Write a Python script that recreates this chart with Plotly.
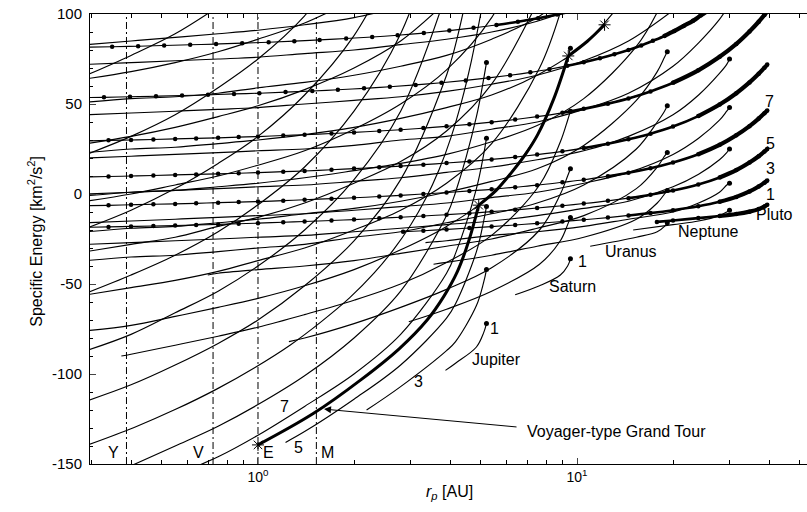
import plotly.graph_objects as go

# ---------------- data ----------------
# planet orbits drawn as dash-dot verticals (AU) and their letters
ORBIT_R = [0.387, 0.723, 1.0, 1.524]
ORBIT_LBL = ['Y', 'V', 'E', 'M']

# orbital radius of each flyby planet (AU) - where the V-infinity contours end with a dot
PLANET_R = {'J': 5.203, 'S': 9.537, 'U': 19.19, 'N': 30.07, 'P': 39.48}

# ---- Jupiter contours (rp [AU], specific energy [km^2/s^2]) ----
J1_RP = [3.87, 4.162, 4.839, 5.099, 5.203]
J1_E = [-98, -94, -85, -77, -72]
J3_RP = [2.19, 2.8, 3.9, 4.162, 4.839, 5.099, 5.203]
J3_E = [-120, -107, -87, -82, -62, -49, -42]
J5_RP = [1.22, 1.4, 2, 2.8, 3.9, 4.162, 4.839, 5.099, 5.203]
J5_E = [-138, -132, -114, -95, -69, -61, -32, -15, -7]
J7_RP = [0.627, 0.75, 1, 1.4, 2, 2.8, 3.9, 4.162, 4.839, 5.099, 5.203]
J7_E = [-152, -146, -134, -118, -100, -78, -44, -33, 3, 22, 31]
J9_RP = [0.4, 0.55, 0.75, 1, 1.4, 2, 2.8, 3.9, 4.162, 4.839, 5.099, 5.203]
J9_E = [-151, -140, -129, -117, -101, -80, -54, -12, 1, 43, 64, 73]
J11_RP = [0.297, 0.409, 0.554, 0.742, 0.976, 1.26, 1.58, 1.94, 2.31, 2.66, 3.01, 3.36, 3.7, 4.03, 4.35, 4.67, 4.99]
J11_E = [-139.0, -129.7, -119.5, -108.4, -96.5, -84.0, -70.9, -57.6, -44.0, -30.9, -17.2, -2.4, 13.7, 31.6, 51.6, 74.3, 100.0]
J13_RP = [0.29, 0.4, 0.55, 0.75, 1, 1.4, 2, 2.8, 3.9, 4.162, 4.839]
J13_E = [-115, -106, -95, -83, -70, -51, -26, 8, 66, 83, 135]
J15_RP = [0.29, 0.4, 0.55, 0.75, 1, 1.4, 2, 2.8, 3.9]
J15_E = [-87, -78, -66, -54, -40, -20, 8, 46, 112]
J17_RP = [0.29, 0.4, 0.55, 0.75, 1, 1.4, 2, 2.8, 3.9]
J17_E = [-55, -45, -34, -21, -6, 15, 46, 89, 162]
J19_RP = [0.29, 0.4, 0.55, 0.75, 1, 1.4, 2, 2.8]
J19_E = [-19, -9, 3, 17, 32, 55, 88, 136]
J21_RP = [0.29, 0.4, 0.55, 0.75, 1, 1.4, 2]
J21_E = [22, 32, 44, 59, 75, 99, 136]
J23_RP = [0.29, 0.4, 0.55, 0.75]
J23_E = [66, 77, 89, 104]

# ---- Saturn contours ----
S1_RP = [6.4, 7.63, 8.869, 9.346, 9.537]
S1_E = [-56, -51, -45, -40, -36]
S3_RP = [2.97, 3.9, 5.4, 7.63, 8.869, 9.346, 9.537]
S3_E = [-71, -64, -54, -39, -26, -17, -13]
S5_RP = [1.25, 1.4, 2, 2.8, 3.9, 5.4, 7.63, 8.869, 9.346, 9.537]
S5_E = [-82, -80, -72, -63, -53, -41, -20, 0, 10, 14]
S7_RP = [0.373, 0.4, 0.55, 0.75, 1, 1.4, 2, 2.8, 3.9, 5.4, 7.63, 8.869, 9.346, 9.537]
S7_E = [-90, -89, -84, -79, -74, -67, -59, -50, -38, -23, 5, 29, 41, 46]
S9_RP = [0.29, 0.4, 0.55, 0.75, 1, 1.4, 2, 2.8, 3.9, 5.4, 7.63, 8.869, 9.346, 9.537]
S9_E = [-76, -73, -68, -63, -58, -51, -42, -31, -18, 0, 35, 63, 75, 81]
S11_RP = [0.29, 0.4, 0.55, 0.75, 1, 1.4, 2, 2.8, 3.9, 5.4, 7.63, 8.869]
S11_E = [-56, -52, -48, -43, -37, -30, -20, -9, 6, 28, 70, 101]
S13_RP = [0.29, 0.4, 0.55, 0.75, 1, 1.4, 2, 2.8, 3.9, 5.4, 7.63]
S13_E = [-32, -28, -24, -18, -13, -5, 6, 18, 35, 61, 109]
S15_RP = [0.29, 0.4, 0.55, 0.75, 1, 1.4, 2, 2.8, 3.9, 5.4, 7.63]
S15_E = [-4, 0, 5, 10, 16, 24, 36, 50, 69, 98, 152]
S17_RP = [0.29, 0.4, 0.55, 0.75, 1, 1.4, 2, 2.8, 3.9]
S17_E = [28, 32, 37, 43, 49, 58, 70, 85, 107]
S19_RP = [0.29, 0.4, 0.55, 0.75, 1, 1.4, 2]
S19_E = [64, 68, 73, 79, 86, 95, 108]

# ---- Uranus contours ----
U1_RP = [11, 15.352, 17.847, 18.806, 19.19]
U1_E = [-29, -24, -21, -18, -16]
U3_RP = [3.55, 3.9, 5.4, 7.5, 10.5, 15.352, 17.847, 18.806, 19.19]
U3_E = [-39, -38, -34, -29, -24, -14, -5, 0, 2]
U5_RP = [0.696, 0.75, 1, 1.4, 2, 2.8, 3.9, 5.4, 7.5, 10.5, 15.352, 17.847, 18.806, 19.19]
U5_E = [-45, -44, -42, -40, -37, -33, -29, -25, -19, -12, 3, 15, 21, 23]
U7_RP = [0.29, 0.4, 0.55, 0.75, 1, 1.4, 2, 2.8, 3.9, 5.4, 7.5, 10.5, 15.352, 17.847, 18.806, 19.19]
U7_E = [-37, -35, -34, -32, -30, -28, -24, -21, -16, -11, -5, 5, 25, 40, 46, 49]
U9_RP = [0.29, 0.4, 0.55, 0.75, 1, 1.4, 2, 2.8, 3.9, 5.4, 7.5, 10.5, 15.352, 17.847, 18.806, 19.19]
U9_E = [-21, -19, -18, -16, -14, -11, -8, -4, 1, 7, 14, 27, 52, 68, 76, 79]
U11_RP = [0.29, 0.4, 0.55, 0.75, 1, 1.4, 2, 2.8, 3.9, 5.4, 7.5, 10.5, 15.352, 17.847]
U11_E = [-1, 1, 2, 4, 6, 9, 13, 17, 22, 29, 38, 53, 82, 101]
U13_RP = [0.29, 0.4, 0.55, 0.75, 1, 1.4, 2, 2.8, 3.9, 5.4, 7.5, 10.5, 15.352]
U13_E = [23, 25, 26, 28, 30, 33, 37, 42, 48, 55, 66, 83, 117]
U15_RP = [0.29, 0.4, 0.55, 0.75, 1, 1.4, 2, 2.8, 3.9, 5.4, 7.5, 10.5]
U15_E = [51, 53, 54, 56, 59, 62, 66, 71, 77, 86, 98, 118]
U17_RP = [0.29, 0.4, 0.55, 0.75, 1, 1.4, 2, 2.8]
U17_E = [83, 85, 87, 89, 91, 94, 98, 104]

# ---- Neptune contours ----
N_RP = [0.29, 0.4, 0.55, 0.75, 1, 1.4, 2, 2.8, 3.9, 5.4, 7.5, 10.5, 14.5, 20, 24.056, 27.965, 29.469, 30.07]
N1_RP = [15, 20, 24.056, 27.965, 29.469, 30.07]
N1_E = [-20, -17, -15, -12, -10, -9]
N3_RP = [3.35, 3.9, 5.4, 7.5, 10.5, 14.5, 20, 24.056, 27.965, 29.469, 30.07]
N3_E = [-27, -26, -23, -21, -18, -14, -10, -5, 1, 5, 6]
N5_E = [-28, -27, -26, -25, -24, -23, -21, -19, -17, -15, -12, -8, -4, 4, 11, 19, 23, 25]
N7_E = [-16, -15, -14, -13, -12, -11, -9, -7, -5, -2, 1, 6, 12, 22, 31, 41, 46, 48]
N9_E = [0, 1, 2, 3, 4, 5, 7, 9, 12, 15, 19, 24, 32, 44, 55, 67, 72, 75]
N11_E = [20, 21, 22, 23, 24, 25, 27, 30, 32, 36, 40, 47, 56, 71, 84, 97, 103]
N13_E = [44, 45, 46, 47, 48, 50, 52, 54, 57, 61, 66, 74, 85, 102]
N15_E = [72, 73, 74, 75, 76, 78, 80, 83, 86, 90, 96, 105]

# ---- Pluto contours (drawn dotted) ----
P_RP = [0.29, 0.34, 0.4, 0.47, 0.55, 0.64, 0.75, 0.87, 1, 1.2, 1.4, 1.7, 2, 2.4, 2.8, 3.3, 3.9, 4.6,
        5.4, 6.4, 7.5, 9, 10.5, 12.5, 14.5, 17, 20, 24, 28, 31.58, 34.74, 37.11, 38.69, 39.48]
P1_RP = [17.8, 20, 24, 28, 31.58, 34.74, 37.11, 38.69, 39.48]
P1_E = [-15.5, -14.7, -13.4, -12.2, -11.1, -9.8, -8.4, -6.9, -6.0]
P3_RP = [2.85, 3.3, 3.9, 4.6, 5.4, 6.4, 7.5, 9, 10.5, 12.5, 14.5, 17, 20, 24, 28, 31.58, 34.74, 37.11, 38.69, 39.48]
P3_E = [-21.0, -20.4, -19.7, -18.9, -18.1, -17.2, -16.3, -15.3, -14.3, -13.1, -11.9, -10.6, -9.0, -6.8, -4.3,
        -1.6, 1.4, 4.2, 6.3, 7.5]
P5_E = [-18.5, -18.3, -18.0, -17.8, -17.5, -17.2, -16.9, -16.5, -16.2, -15.7, -15.3, -14.7, -14.2, -13.5, -12.9,
        -12.2, -11.5, -10.7, -9.8, -8.8, -7.8, -6.5, -5.3, -3.8, -2.3, -0.4, 1.9, 5.3, 9.2, 13.3, 17.5, 21.0,
        23.6, 25.0]
P7_E = [-6.5, -6.3, -6.0, -5.7, -5.5, -5.2, -4.8, -4.5, -4.2, -3.7, -3.2, -2.6, -2.1, -1.4, -0.8, 0.0, 0.8,
        1.7, 2.6, 3.8, 4.9, 6.5, 7.9, 9.9, 11.8, 14.3, 17.5, 22.1, 27.3, 32.6, 37.7, 41.9, 44.9, 46.4]
P9_E = [9.5, 9.7, 10.0, 10.3, 10.6, 10.9, 11.2, 11.5, 11.9, 12.4, 12.8, 13.5, 14.1, 14.8, 15.5, 16.3, 17.2,
        18.1, 19.2, 20.5, 21.9, 23.7, 25.5, 27.9, 30.4, 33.5, 37.5, 43.3, 49.7, 56.0, 62.0, 66.8, 70.2, 71.9]
P11_E = [29.5, 29.8, 30.0, 30.3, 30.6, 30.9, 31.2, 31.6, 31.9, 32.5, 32.9, 33.6, 34.2, 35.0, 35.7, 36.6, 37.6,
         38.7, 39.9, 41.4, 43.0, 45.1, 47.3, 50.2, 53.1, 57.0, 61.8, 68.7, 76.2, 83.4, 90.3, 95.7, 99.5, 101.4]
P13_RP = [0.273, 0.329, 0.397, 0.479, 0.578, 0.697, 0.841, 1.01, 1.22, 1.48, 1.78, 2.15, 2.59, 3.12, 3.76, 4.48,
          5.28, 6.17, 7.14, 8.19, 9.32, 10.5, 11.8, 13.1, 14.5, 15.9, 17.3, 18.8, 20.2, 21.6, 23.1, 24.4, 25.8]
P13_E = [53.5, 53.7, 54.0, 54.3, 54.7, 55.1, 55.6, 56.0, 56.6, 57.2, 57.9, 58.7, 59.6, 60.6, 61.8, 63.1, 64.5,
         66.0, 67.6, 69.3, 71.2, 73.2, 75.4, 77.6, 80.0, 82.5, 85.1, 87.8, 90.6, 93.4, 96.2, 99.1, 101.9]
P15_RP = [0.289, 0.349, 0.421, 0.508, 0.613, 0.739, 0.892, 1.08, 1.3, 1.56, 1.89, 2.28, 2.74, 3.31, 3.98, 4.74,
          5.59, 6.53, 7.55, 8.66, 9.84]
P15_E = [81.6, 81.8, 82.1, 82.5, 82.9, 83.3, 83.8, 84.3, 84.9, 85.6, 86.4, 87.2, 88.2, 89.4, 90.8, 92.3, 93.9,
         95.7, 97.6, 99.7, 101.9]

# ---- Voyager-type Grand Tour path (Jupiter, Saturn, Uranus legs) ----
PATH_J_RP = [1.0, 1.49, 2.11, 2.77, 3.39, 3.82, 4.22, 4.58, 4.92]
PATH_J_E = [-139.4, -122, -103, -86, -70, -57, -43, -26, -6.2]
PATH_S_RP = [4.92, 5.58, 6.24, 6.89, 7.53, 8.46, 9.39]
PATH_S_E = [-6.2, 2, 12, 22, 33, 53, 76.7]
PATH_U_RP = [9.39, 10.8, 12.2]
PATH_U_E = [76.7, 85, 94.0]

CURVES = [
    ('J', J1_RP, J1_E), ('J', J3_RP, J3_E), ('J', J5_RP, J5_E), ('J', J7_RP, J7_E), ('J', J9_RP, J9_E),
    ('J', J11_RP, J11_E), ('J', J13_RP, J13_E), ('J', J15_RP, J15_E), ('J', J17_RP, J17_E),
    ('J', J19_RP, J19_E), ('J', J21_RP, J21_E), ('J', J23_RP, J23_E),
    ('S', S1_RP, S1_E), ('S', S3_RP, S3_E), ('S', S5_RP, S5_E), ('S', S7_RP, S7_E), ('S', S9_RP, S9_E),
    ('S', S11_RP, S11_E), ('S', S13_RP, S13_E), ('S', S15_RP, S15_E), ('S', S17_RP, S17_E),
    ('S', S19_RP, S19_E),
    ('U', U1_RP, U1_E), ('U', U3_RP, U3_E), ('U', U5_RP, U5_E), ('U', U7_RP, U7_E), ('U', U9_RP, U9_E),
    ('U', U11_RP, U11_E), ('U', U13_RP, U13_E), ('U', U15_RP, U15_E), ('U', U17_RP, U17_E),
    ('N', N1_RP, N1_E), ('N', N3_RP, N3_E), ('N', N_RP, N5_E), ('N', N_RP, N7_E), ('N', N_RP, N9_E),
    ('N', N_RP[:len(N11_E)], N11_E), ('N', N_RP[:len(N13_E)], N13_E), ('N', N_RP[:len(N15_E)], N15_E),
]
DOTTED = [(P1_RP, P1_E), (P3_RP, P3_E), (P_RP, P5_E), (P_RP, P7_E), (P_RP, P9_E), (P_RP, P11_E),
          (P13_RP, P13_E), (P15_RP, P15_E)]

# ---------------- styling ----------------
X_RANGE = [-0.5266, 1.7210]
Y_RANGE = [-150, 100]
Y_TICKS = [-150, -100, -50, 0, 50, 100]
FONT = 'Liberation Sans, Arial, Helvetica, sans-serif'
BLACK = 'black'
THIN = 1.15
# where each dotted Pluto contour starts to look heavy (dots crowd together), and where it is heaviest
THICK_FROM = [17, 14, 14, 12, 10, 8.5, 8.5, 5]
HEAVY_FROM = [28, 28, 26, 24, 22, 20, 18, 9]

fig = go.Figure()

for r in ORBIT_R:
    fig.add_trace(go.Scatter(x=[r, r], y=Y_RANGE, mode='lines', hoverinfo='skip', showlegend=False,
                             line=dict(color=BLACK, width=1, dash='7px,3px,2px,3px')))

dot_x, dot_y = [], []
for key, rp, e in CURVES:
    fig.add_trace(go.Scatter(x=rp, y=e, mode='lines', hoverinfo='skip', showlegend=False,
                             line=dict(color=BLACK, width=THIN, shape='spline')))
    if rp[-1] == PLANET_R[key] and Y_RANGE[0] <= e[-1] <= Y_RANGE[1]:
        dot_x.append(rp[-1])
        dot_y.append(e[-1])
fig.add_trace(go.Scatter(x=dot_x, y=dot_y, mode='markers', hoverinfo='skip', showlegend=False,
                         marker=dict(color=BLACK, size=5)))

for (rp, e), t0, t1 in zip(DOTTED, THICK_FROM, HEAVY_FROM):
    fig.add_trace(go.Scatter(x=rp, y=e, mode='lines+markers', hoverinfo='skip', showlegend=False,
                             line=dict(color=BLACK, width=THIN, shape='spline'),
                             marker=dict(color=BLACK, size=4.5)))
    for start, w in ((t0, 2.6), (t1, 4.2)):
        idx = [i for i, r in enumerate(rp) if r >= start]
        if len(idx) > 1:
            fig.add_trace(go.Scatter(x=[rp[i] for i in idx], y=[e[i] for i in idx], mode='lines',
                                     hoverinfo='skip', showlegend=False,
                                     line=dict(color=BLACK, width=w, shape='spline')))

for rp, e in [(PATH_J_RP, PATH_J_E), (PATH_S_RP, PATH_S_E), (PATH_U_RP, PATH_U_E)]:
    fig.add_trace(go.Scatter(x=rp, y=e, mode='lines', hoverinfo='skip', showlegend=False,
                             line=dict(color=BLACK, width=3, shape='spline')))
fig.add_trace(go.Scatter(x=[PATH_J_RP[0], PATH_J_RP[-1], PATH_S_RP[-1], PATH_U_RP[-1]],
                         y=[PATH_J_E[0], PATH_J_E[-1], PATH_S_E[-1], PATH_U_E[-1]],
                         mode='markers', hoverinfo='skip', showlegend=False,
                         marker=dict(symbol='asterisk-open', size=10, color=BLACK,
                                     line=dict(color=BLACK, width=1))))

# text labels (x given as log10 of rp for the log axis)
LABELS = [("Y", -0.4545, -143.5), ("V", -0.185, -143.5), ("E", 0.033, -143.5), ("M", 0.219, -143.5),
          ("7", 0.0846, -118.3), ("5", 0.1285, -141.1), ("3", 0.5016, -104.4), ("1", 0.740, -74.5),
          ("Jupiter", 0.749, -92.0), ("1", 1.018, -37.5), ("Saturn", 0.987, -51.5), ("Uranus", 1.169, -32.0),
          ("Neptune", 1.4107, -21.0), ("Pluto", 1.6176, -11.5), ("7", 1.603, 51.5), ("5", 1.606, 28.0),
          ("3", 1.606, 14.3), ("1", 1.606, 0.0)]
for t, x, y in LABELS:
    fig.add_annotation(x=x, y=y, text=t, showarrow=False, font=dict(size=16, color=BLACK, family=FONT))
fig.add_annotation(x=0.837, y=-132.2, text='Voyager-type Grand Tour', showarrow=False, xanchor='left',
                   font=dict(size=16, color=BLACK, family=FONT))
fig.add_annotation(x=0.207, y=-119.5, ax=194, ay=18, text='', showarrow=True, arrowhead=2, arrowsize=1.4,
                   arrowwidth=1, arrowcolor=BLACK)
fig.add_annotation(xref='paper', yref='paper', x=-0.0934, y=0.494, textangle=-90, showarrow=False,
                   text='Specific Energy [km<sup>2</sup>/s<sup>2</sup>]',
                   font=dict(size=16, color=BLACK, family=FONT))
fig.add_annotation(xref='paper', yref='paper', x=0.502, y=-0.064, showarrow=False, yanchor='middle',
                   text='<i>r<sub>p</sub></i> [AU]', font=dict(size=16, color=BLACK, family=FONT))

X_MINOR = [0.3, 0.4, 0.5, 0.6, 0.7, 0.8, 0.9, 2, 3, 4, 5, 6, 7, 8, 9, 20, 30, 40, 50]
fig.update_layout(
    width=807, height=512, margin=dict(l=90, r=0, t=14, b=48, autoexpand=False),
    paper_bgcolor='white', plot_bgcolor='white',
    font=dict(family=FONT, size=14, color=BLACK),
    xaxis=dict(type='log', range=X_RANGE, showgrid=False, zeroline=False, showline=True, automargin=False,
               linecolor=BLACK, linewidth=1, mirror='ticks', ticks='inside', ticklen=6,
               tickvals=[1, 10], ticktext=['10<sup>0</sup>', '10<sup>1</sup>'], tickfont=dict(size=14),
               minor=dict(tickvals=X_MINOR, ticks='inside', ticklen=4, tickcolor=BLACK, showgrid=False)),
    yaxis=dict(range=Y_RANGE, showgrid=False, zeroline=False, showline=True, linecolor=BLACK, automargin=False,
               linewidth=1, mirror=False, ticks='inside', ticklen=6, tickvals=Y_TICKS,
               ticktext=[str(v) for v in Y_TICKS], tickfont=dict(size=15), ticklabelstandoff=4,
               minor=dict(dtick=10, ticks='inside', ticklen=3, tickcolor=BLACK, showgrid=False)),
)
# remove the browser's default page margin so the 807x512 figure fills the window exactly
fig.write_html('out.html', config={'displayModeBar': False},
               post_script="document.body.style.margin='0';document.body.style.overflow='hidden';")
